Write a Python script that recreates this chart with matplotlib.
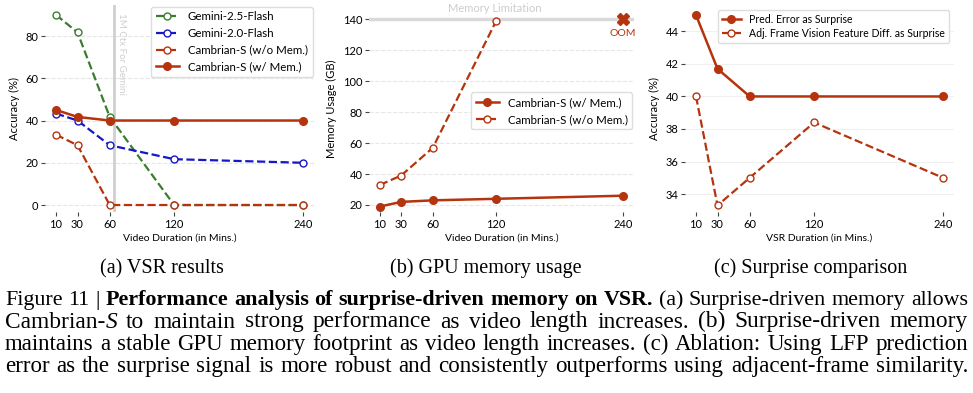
import matplotlib
matplotlib.use("Agg")
import matplotlib.pyplot as plt
import numpy as np

plt.rcParams['font.family'] = ['Lato', 'DejaVu Sans']

# (a) VSR accuracy vs video duration
durations = [10, 30, 60, 120, 240]
gemini25 = [90, 81.7, 41.7, 0, 0]
gemini20 = [43.3, 40, 28.3, 21.7, 20]
cam_no_mem = [33.3, 28.3, 0, 0, 0]
cam_mem = [45, 41.7, 40, 40, 40]
gemini_ctx = 64

# (b) GPU memory (GB)
mem_with = [19, 22, 23, 24, 26]
mem_without_x = [10, 30, 60, 120]
mem_without = [33, 39, 57, 139]
mem_limit = 140
oom_x = 240

# (c) surprise signal ablation
surprise_pred = [45, 41.7, 40, 40, 40]
surprise_adj = [40, 33.3, 35, 38.4, 35]

RED = '#b5340e'
GREEN = '#3b7d30'
BLUE = '#1717c4'
W, H = 973, 393

fig = plt.figure(figsize=(W / 100, H / 100), dpi=100)
ax1 = fig.add_axes([45.3 / W, 0.4595, 268.4 / W, 0.5268])
ax2 = fig.add_axes([369.4 / W, 0.4595, 264.2 / W, 0.5268])
ax3 = fig.add_axes([685.3 / W, 0.4595, 268.4 / W, 0.5268])

for ax in (ax1, ax2, ax3):
    for s in ax.spines.values():
        s.set_visible(False)
    ax.set_xlim(0, 250)
    ax.set_xticks(durations)
    ax.tick_params(labelsize=8, length=3, width=0.8, color='#444444', pad=2)
    ax.set_axisbelow(True)

open_kw = dict(marker='o', ms=5, mfc='white', mew=1)
fill_kw = dict(marker='o', ms=5.5)

# ---- (a)
ax1.axvline(gemini_ctx, color='#d0d0d0', lw=2, zorder=1)
ax1.text(gemini_ctx + 2.5, 91, "1M Ctx For Gemini", rotation=270, va='top', ha='left',
         color='#cfcfcf', fontsize=7)
ax1.plot(durations, gemini25, '--', color=GREEN, lw=1.6, label='Gemini-2.5-Flash', **open_kw)
ax1.plot(durations, gemini20, '--', color=BLUE, lw=1.6, label='Gemini-2.0-Flash', **open_kw)
ax1.plot(durations, cam_no_mem, '--', color=RED, lw=1.6, label='Cambrian-S (w/o Mem.)', **open_kw)
ax1.plot(durations, cam_mem, '-', color=RED, lw=1.8, label='Cambrian-S (w/ Mem.)', **fill_kw)
ax1.set_ylim(-3.5, 94.5)
ax1.set_yticks([0, 20, 40, 60, 80])
ax1.grid(axis='y', ls='--', color='#e6e6e6', lw=0.8)
ax1.set_xlabel('Video Duration (in Mins.)', fontsize=7.5, labelpad=2)
ax1.set_ylabel('Accuracy (%)', fontsize=8)
ax1.legend(loc='upper right', fontsize=8.3, labelspacing=0.5, edgecolor='#dddddd',
           framealpha=1, borderaxespad=0.1)

# ---- (b)
ax2.axhline(mem_limit, color='#d9d9d9', lw=2.5, zorder=1)
ax2.text(119, mem_limit + 3.5, 'Memory Limitation', ha='center', va='bottom',
         color='#cccccc', fontsize=8)
ax2.plot(durations, mem_with, '-', color=RED, lw=1.8, label='Cambrian-S (w/ Mem.)', **fill_kw)
ax2.plot(mem_without_x, mem_without, '--', color=RED, lw=1.6, label='Cambrian-S (w/o Mem.)', **open_kw)
ax2.plot([oom_x], [mem_limit], marker='X', ms=8, color=RED, ls='none')
ax2.text(oom_x, mem_limit - 6.5, 'OOM', ha='center', va='top', color=RED, fontsize=7.5)
ax2.set_ylim(15.2, 149)
ax2.set_yticks([20, 40, 60, 80, 100, 120, 140])
ax2.grid(axis='y', ls='--', color='#e6e6e6', lw=0.8)
ax2.set_xlabel('Video Duration (in Mins.)', fontsize=7.5, labelpad=2)
ax2.set_ylabel('Memory Usage (GB)', fontsize=8)
ax2.legend(loc='center right', fontsize=8.3, labelspacing=0.5, edgecolor='#dddddd',
           framealpha=1, borderaxespad=0.1, bbox_to_anchor=(1.0, 0.49))

# ---- (c)
ax3.plot(durations, surprise_pred, '-', color=RED, lw=1.8, label='Pred. Error as Surprise', **fill_kw)
ax3.plot(durations, surprise_adj, '--', color=RED, lw=1.6,
         label='Adj. Frame Vision Feature Diff. as Surprise', **open_kw)
ax3.set_ylim(32.87, 45.6)
ax3.set_yticks([34, 36, 38, 40, 42, 44])
ax3.grid(axis='y', ls='-', color='#f0f0f0', lw=0.8)
ax3.set_xlabel('VSR Duration (in Mins.)', fontsize=7.5, labelpad=2)
ax3.set_ylabel('Accuracy (%)', fontsize=8)
ax3.legend(loc='upper right', fontsize=7.6, labelspacing=0.3, edgecolor='#dddddd',
           framealpha=1, borderaxespad=0.4, handlelength=1.8)

# ---- subcaptions and caption
serif = 'Liberation Serif'
renderer = fig.canvas.get_renderer()

for cx, txt in [(162, '(a) VSR results'), (486, '(b) GPU memory usage'), (811, '(c) Surprise comparison')]:
    fig.text(cx / W, 1 - 273 / H, txt, ha='center', va='baseline', fontsize=14.5, family=serif)


def plain(s):
    return [[(w, 'normal', 'normal')] for w in s.split()]


def bold(s):
    return [[(w, 'bold', 'normal')] for w in s.split()]


lines = [
    plain("Figure 11 |") + bold("Performance analysis of surprise-driven memory on VSR.")
    + plain("(a) Surprise-driven memory allows"),
    [[("Cambrian-", 'normal', 'normal'), ("S", 'normal', 'italic')]]
    + plain("to maintain strong performance as video length increases. (b) Surprise-driven memory"),
    plain("maintains a stable GPU memory footprint as video length increases. (c) Ablation: Using LFP prediction"),
    plain("error as the surprise signal is more robust and consistently outperforms using adjacent-frame similarity."),
]
baselines = [305, 327.5, 350, 372]
x0, x1 = 5, 968


def word_width(word, size):
    wd = 0
    for txt, wt, st in word:
        t = fig.text(0, 0, txt, fontsize=size, family=serif, weight=wt, style=st)
        wd += t.get_window_extent(renderer).width
        t.remove()
    return wd


def fit_size(words, space_em, base=14):
    nat = sum(word_width(w, base) for w in words) + space_em * base * 100 / 72 * (len(words) - 1)
    return base * (x1 - x0) / nat


# each line gets its own size, kept close to the others
fits = [fit_size(words, 0.28) for words in lines]
mid = np.median(fits)
sizes = [float(np.clip(f, mid * 0.96, mid * 1.02)) for f in fits]

for words, yb, size in zip(lines, baselines, sizes):
    widths = [word_width(w, size) for w in words]
    gap = (x1 - x0 - sum(widths)) / (len(words) - 1)
    x = x0
    for w, wd in zip(words, widths):
        xx = x
        for txt, wt, st in w:
            t = fig.text(xx / W, 1 - yb / H, txt, fontsize=size, family=serif,
                         weight=wt, style=st, va='baseline')
            xx += t.get_window_extent(renderer).width
        x += wd + gap

fig.savefig('out.png', dpi=100)
